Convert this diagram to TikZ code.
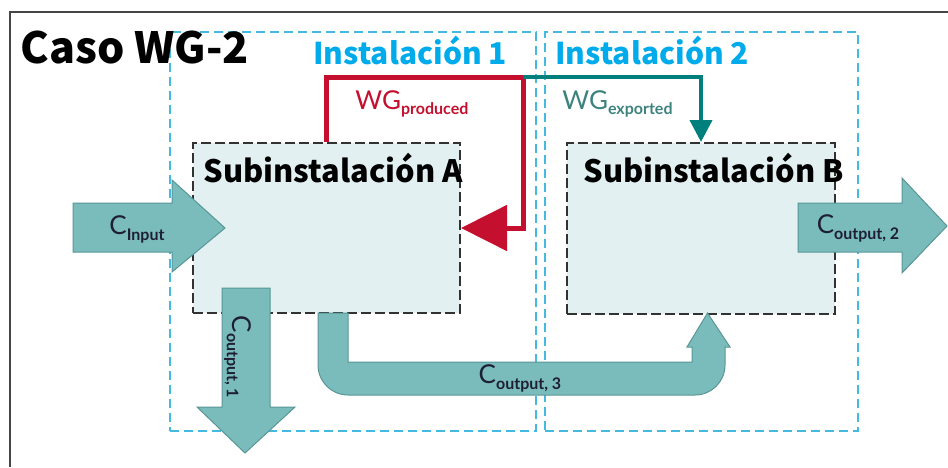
\documentclass[tikz,border=0pt]{standalone}
\usepackage{fontspec}
\setmainfont{Noto Sans CJK JP}
\newfontfamily\flowfont{Lato}
\usetikzlibrary{arrows.meta}
\definecolor{framegray}{RGB}{70,70,70}
\definecolor{instblue}{RGB}{70,185,225}
\definecolor{insttext}{RGB}{0,171,235}
\definecolor{boxfill}{RGB}{226,240,241}
\definecolor{boxline}{RGB}{50,50,50}
\definecolor{arrowfill}{RGB}{122,188,188}
\definecolor{arrowline}{RGB}{88,150,150}
\definecolor{wgred}{RGB}{196,16,46}
\definecolor{wgteal}{RGB}{0,128,125}
\definecolor{exporttext}{RGB}{60,130,125}
\definecolor{labeltext}{RGB}{30,30,55}
\newcommand{\lowsub}[1]{\raisebox{-0.45ex}{\fontsize{8}{9}\selectfont\bfseries #1}}

\begin{document}
\begin{tikzpicture}[x=0.5pt,y=-0.5pt]
\tikzstyle{every node}+=[inner sep=0pt]
\tikzstyle{instbox}=[draw=instblue, line width=1pt, dash pattern=on 4.5pt off 2.5pt]
\tikzstyle{subbox}=[draw=boxline, fill=boxfill, line width=1pt, dash pattern=on 5pt off 2pt]
\tikzstyle{bigarrow}=[fill=arrowfill, draw=arrowline, line width=0.5pt, line join=miter]
\tikzstyle{insttitle}=[text=insttext, font=\bfseries\fontsize{15}{18}\selectfont]
\tikzstyle{subtitle}=[font=\bfseries\fontsize{15.4}{19}\selectfont]
\tikzstyle{flowlabel}=[text=labeltext, font=\flowfont\fontsize{13}{15}\selectfont]
\useasboundingbox (0,0) rectangle (948,467);
\draw [framegray, line width=1pt] (10,467) -- (10,12) -- (948,12);
% installations
\node [instbox, minimum width=183pt, minimum height=199.5pt] (inst1) at (353,231.5) {};
\node [instbox, minimum width=156.5pt, minimum height=199.5pt] (inst2) at (701.5,231.5) {};
\node [insttitle, anchor=base west] (inst1lbl) at (313,64) {Instalación 1};
\node [insttitle, anchor=base west] (inst2lbl) at (555,64) {Instalación 2};
\node [anchor=base west, font=\bfseries\fontsize{21.5}{26}\selectfont] (caso) at (20,63) {Caso WG-2};
% sub-installations
\node [subbox, minimum width=133.5pt, minimum height=85pt] (subA) at (326.5,228) {};
\node [subbox, minimum width=134pt, minimum height=85.5pt] (subB) at (701,228.5) {};
\node [subtitle, anchor=base west] (subAlbl) at (203,182) {Subinstalación A};
\node [subtitle, anchor=base west] (subBlbl) at (583,182) {Subinstalación B};
% waste gas
\coordinate (wgsplit) at (523,77);
\draw [wgred, line width=2.5pt, -{Triangle[length=23pt,width=22.5pt]}] (subA.north) |- (wgsplit) |- (subA.east);
\draw [wgteal, line width=2pt, -{Triangle[length=11pt,width=11pt]}] (wgsplit) -| (subB.north);
\node [flowlabel, text=wgred, anchor=base west] (prodlbl) at (355,109) {WG\lowsub{produced}};
\node [flowlabel, text=exporttext, anchor=base west] (explbl) at (562,109) {WG\lowsub{exported}};
% carbon flows
\draw [bigarrow] (73,203) -- (172,203) -- (172,180) -- (225,228) -- (172,272) -- (172,252) -- (73,252) -- cycle;
\node [flowlabel] (inputlbl) at (137,229) {C\lowsub{Input}};
\draw [bigarrow] (798,203) -- (902,203) -- (902,178) -- (947,226) -- (902,273) -- (902,252) -- (798,252) -- cycle;
\node [flowlabel] (out2lbl) at (858,228) {C\lowsub{output, 2}};
\draw [bigarrow] (222,288) -- (270,288) -- (270,407) -- (295,407) -- (245,453) -- (197,407) -- (222,407) -- cycle;
\node [flowlabel, rotate=-90] (out1lbl) at (238,357) {C\lowsub{output, 1}};
\draw [bigarrow] (318,313) -- (318,365) .. controls (318,381.6) and (331.4,395) .. (348,395)
  -- (695,395) .. controls (711.6,395) and (725,381.6) .. (725,365) -- (725,347) -- (730,347)
  -- (707.5,313) -- (687,347) -- (692,347) -- (692,362) -- (348,362) -- (348,313) -- cycle;
\node [flowlabel] (out3lbl) at (520,378) {C\lowsub{output, 3}};
\end{tikzpicture}
\end{document}
